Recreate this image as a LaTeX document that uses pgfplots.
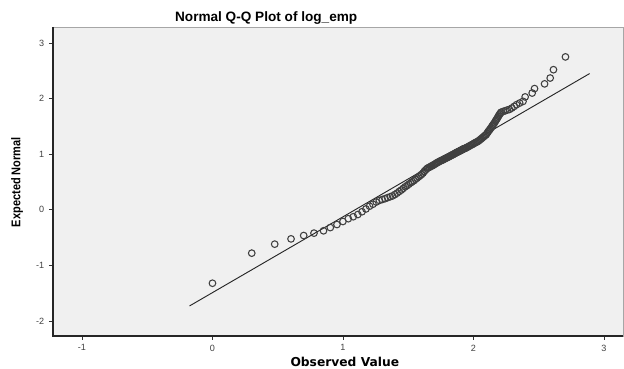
\documentclass[border=0pt]{standalone}
\usepackage{fontspec}
\setmainfont{Liberation Sans}
\newfontfamily\dejavu{DejaVu Sans}
\usepackage{pgfplots}
\pgfplotsset{compat=1.18}
\definecolor{bgc}{HTML}{F0F0F0}
\definecolor{mk}{HTML}{404040}
\begin{document}
\begin{tikzpicture}
\begin{axis}[
  scale only axis,
  width=427.5pt, height=231.75pt,
  xmin=-1.222, xmax=3.146, ymin=-2.27, ymax=3.288,
  axis background/.style={fill=bgc},
  axis line style={draw=gray!70, line width=0.6pt},
  xtick={-1,0,1,2,3}, ytick={-2,-1,0,1,2,3},
  tick align=outside, tick pos=left,
  major tick length=3pt,
  tick style={black!80, line width=0.6pt},
  ticklabel style={font=\fontsize{6.8}{7}\selectfont, text=black!75},
  /pgf/number format/assume math mode=true,
  clip=false,
]
\addplot[no marks, black!85, line width=0.7pt] coordinates {(-0.176,-1.73) (2.89,2.45)};
\addplot[only marks, mark=o, mark size=2.5pt, mark options={draw=mk, line width=0.8pt}] coordinates {
(0.000,-1.321) (0.301,-0.780) (0.477,-0.618) (0.602,-0.523) (0.699,-0.463)
(0.778,-0.420) (0.851,-0.378) (0.903,-0.320) (0.954,-0.265) (1.000,-0.210)
(1.041,-0.160) (1.079,-0.125) (1.114,-0.085) (1.146,-0.035) (1.176,0.015)
(1.204,0.065) (1.230,0.100) (1.255,0.140) (1.279,0.168) (1.301,0.185)
(1.322,0.200) (1.342,0.218) (1.362,0.235) (1.380,0.250) (1.398,0.275)
(1.415,0.300) (1.431,0.330) (1.447,0.355) (1.462,0.385) (1.477,0.415)
(1.491,0.435) (1.505,0.460) (1.519,0.485) (1.531,0.505) (1.544,0.525)
(1.556,0.550) (1.568,0.570) (1.580,0.595) (1.591,0.615) (1.602,0.635)
(1.613,0.660) (1.623,0.690) (1.633,0.715) (1.643,0.740) (1.653,0.755)
(1.663,0.765) (1.672,0.780) (1.681,0.790) (1.690,0.800) (1.699,0.815)
(1.708,0.825) (1.716,0.840) (1.724,0.850) (1.732,0.860) (1.740,0.870)
(1.748,0.880) (1.756,0.890) (1.763,0.895) (1.771,0.905) (1.778,0.915)
(1.785,0.925) (1.792,0.930) (1.799,0.940) (1.806,0.950) (1.813,0.955)
(1.820,0.965) (1.826,0.975) (1.833,0.980) (1.839,0.990) (1.845,0.995)
(1.851,1.005) (1.857,1.010) (1.863,1.020) (1.869,1.030) (1.875,1.035)
(1.881,1.040) (1.886,1.050) (1.892,1.055) (1.898,1.060) (1.903,1.070)
(1.908,1.075) (1.914,1.080) (1.919,1.090) (1.924,1.095) (1.929,1.100)
(1.934,1.105) (1.940,1.110) (1.949,1.120) (1.959,1.135) (1.968,1.145)
(1.978,1.160) (1.987,1.170) (1.996,1.180) (2.004,1.195) (2.013,1.205)
(2.021,1.215) (2.029,1.225) (2.037,1.235) (2.045,1.250) (2.053,1.265)
(2.061,1.280) (2.068,1.295) (2.076,1.310) (2.083,1.325) (2.090,1.340)
(2.097,1.350) (2.104,1.375) (2.111,1.400) (2.117,1.420) (2.124,1.440)
(2.130,1.460) (2.137,1.480) (2.143,1.505) (2.149,1.525) (2.155,1.545)
(2.161,1.565) (2.167,1.590) (2.173,1.610) (2.179,1.635) (2.185,1.655)
(2.190,1.680) (2.196,1.700) (2.201,1.720) (2.207,1.740) (2.212,1.755)
(2.228,1.770) (2.243,1.780) (2.260,1.795) (2.276,1.805) (2.294,1.830)
(2.312,1.860) (2.330,1.890) (2.354,1.920) (2.380,1.950) (2.396,2.030)
(2.450,2.100) (2.468,2.180) (2.545,2.265) (2.588,2.370) (2.613,2.520)
(2.705,2.750)
};
\draw[black!85, line width=0.9pt] (rel axis cs:0,1) -- (rel axis cs:0,0) -- (rel axis cs:1,0);
\node[font=\bfseries\fontsize{10.2}{12}\selectfont, anchor=center] at ([yshift=6.75pt]rel axis cs:0.374,1) {Normal Q-Q Plot of log\_emp};
\node[font=\dejavu\bfseries\fontsize{9.2}{10}\selectfont, anchor=center] at ([yshift=-19.5pt]rel axis cs:0.512,0) {Observed Value};
\node[font=\bfseries\fontsize{9.5}{10}\selectfont, anchor=center, rotate=90] at ([xshift=-27pt]rel axis cs:0,0.498) {\scalebox{0.87}[1]{Expected Normal}};
\end{axis}
\pgfresetboundingbox
\path[use as bounding box] ([xshift=-39.75pt, yshift=-24.75pt]current axis.south west) rectangle ([xshift=0.75pt, yshift=20.25pt]current axis.north east);
\end{tikzpicture}
\end{document}
